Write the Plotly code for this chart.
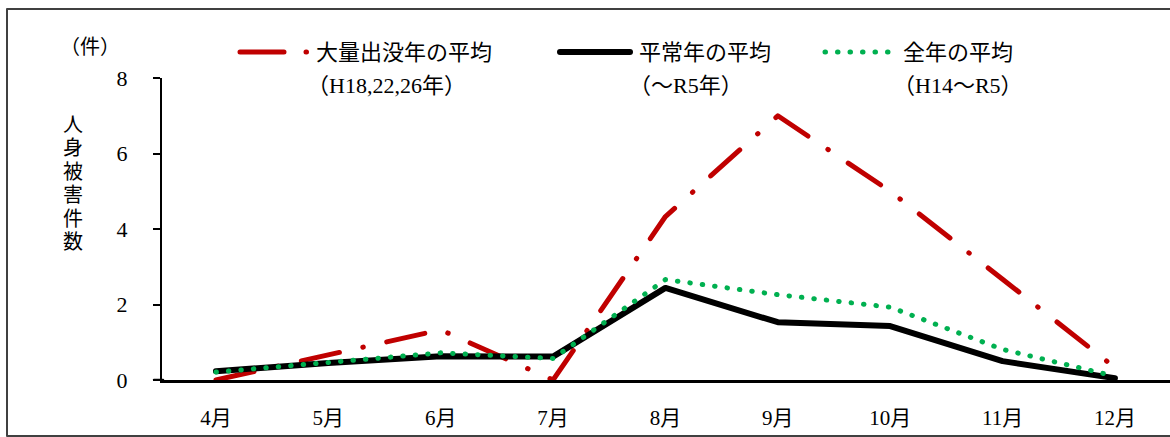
import plotly.graph_objects as go

# Monthly average number of bear-related injury incidents
months = ["4月", "5月", "6月", "7月", "8月", "9月", "10月", "11月", "12月"]
mass_years = [0, 0.67, 1.33, 0, 4.33, 7.0, 5.0, 2.67, 0.33]      # 大量出没年 (H18,22,26)
normal_years = [0.23, 0.45, 0.63, 0.62, 2.44, 1.53, 1.43, 0.50, 0.05]  # 平常年
all_years = [0.21, 0.47, 0.72, 0.57, 2.66, 2.26, 1.93, 0.81, 0.10]     # 全年 (H14～R5)

y_ticks = [0, 2, 4, 6, 8]
legend_titles = ["大量出没年の平均", "平常年の平均", "全年の平均"]
legend_notes = ["（H18,22,26年）", "（～R5年）", "（H14～R5）"]
y_title = "人身被害件数"
y_unit = "（件）"

RED = "#C00000"
BLACK = "#000000"
GREEN = "#00B050"
FONT = "Liberation Serif, Noto Sans CJK JP"

# dash patterns, drawn with round line caps (see ROUND_CAPS below)
RED_DASH = "39px,24px,0.5px,24px"
GREEN_DOT = "0.5px,12px"

# plot-area geometry in pixels
L, T, W, H = 162, 78, 1008, 302


def px(x):
    return (x - L) / W


def py(y):
    return (T + H - y) / H


fig = go.Figure()

fig.add_trace(go.Scatter(
    x=months, y=mass_years, mode="lines", name=legend_titles[0],
    line=dict(color=RED, width=5, dash=RED_DASH),
    cliponaxis=False, showlegend=False))
fig.add_trace(go.Scatter(
    x=months, y=normal_years, mode="lines", name=legend_titles[1],
    line=dict(color=BLACK, width=6),
    cliponaxis=False, showlegend=False))
fig.add_trace(go.Scatter(
    x=months, y=all_years, mode="lines", name=legend_titles[2],
    line=dict(color=GREEN, width=5, dash=GREEN_DOT),
    cliponaxis=False, showlegend=False))

shapes = []
annotations = []

# outer frame
shapes.append(dict(type="rect", xref="paper", yref="paper",
                   x0=px(7), x1=px(1178), y0=py(436), y1=py(9),
                   line=dict(color="#404040", width=2), fillcolor="rgba(0,0,0,0)"))
# horizontal axis stub to the left of the vertical axis
shapes.append(dict(type="line", xref="paper", yref="y",
                   x0=px(154), x1=px(163), y0=0, y1=0,
                   line=dict(color=BLACK, width=2.5)))

# legend samples
legend_y = 52
samples = [
    (240, 307, RED, 5, "44px,22px,0.5px,30px"),
    (560, 630, BLACK, 6, "solid"),
    (825, 888, GREEN, 5, GREEN_DOT),
]
for x0, x1, color, width, dash in samples:
    shapes.append(dict(type="line", xref="paper", yref="paper",
                       x0=px(x0), x1=px(x1), y0=py(legend_y), y1=py(legend_y),
                       line=dict(color=color, width=width, dash=dash)))

title_x = [314, 637, 901]
note_x = [305, 627, 891]
for tx, nx, title, note in zip(title_x, note_x, legend_titles, legend_notes):
    annotations.append(dict(xref="paper", yref="paper", x=px(tx), y=py(53),
                            xanchor="left", yanchor="middle", text=title,
                            showarrow=False, font=dict(family=FONT, size=22, color=BLACK)))
    annotations.append(dict(xref="paper", yref="paper", x=px(nx), y=py(85),
                            xanchor="left", yanchor="middle", text=note,
                            showarrow=False, font=dict(family=FONT, size=22, color=BLACK)))

# vertical axis title, one character per row
for i, ch in enumerate(y_title):
    annotations.append(dict(xref="paper", yref="paper", x=px(73), y=py(125 + 23.4 * i),
                            xanchor="center", yanchor="middle", text=ch,
                            showarrow=False, font=dict(family=FONT, size=20, color=BLACK)))
annotations.append(dict(xref="paper", yref="paper", x=px(90), y=py(47),
                        xanchor="center", yanchor="middle", text=y_unit,
                        showarrow=False, font=dict(family=FONT, size=20, color=BLACK)))

fig.update_layout(
    width=1170, height=437,
    margin=dict(l=L, r=1170 - L - W, t=T, b=437 - T - H),
    paper_bgcolor="white", plot_bgcolor="white",
    shapes=shapes, annotations=annotations,
    xaxis=dict(type="category", range=[-0.48, 8.49], showgrid=False, zeroline=False,
               showline=True, linecolor=BLACK, linewidth=2.5, ticks="",
               ticklabelstandoff=17,
               tickfont=dict(family=FONT, size=21, color=BLACK)),
    yaxis=dict(range=[0, 8], tickvals=y_ticks, showgrid=False, zeroline=False,
               showline=True, linecolor=BLACK, linewidth=2, ticks="outside",
               ticklen=7, tickwidth=2, tickcolor=BLACK, ticklabelstandoff=21,
               tickfont=dict(family=FONT, size=22, color=BLACK)),
)

# give the dashed and dotted series round caps, as in the printed chart
ROUND_CAPS = """
var css = document.createElement('style');
css.textContent = '.scatterlayer path.js-line, .shapelayer path {stroke-linecap: round; stroke-linejoin: round;}';
document.head.appendChild(css);
"""

fig.write_html("out.html", post_script=ROUND_CAPS)
